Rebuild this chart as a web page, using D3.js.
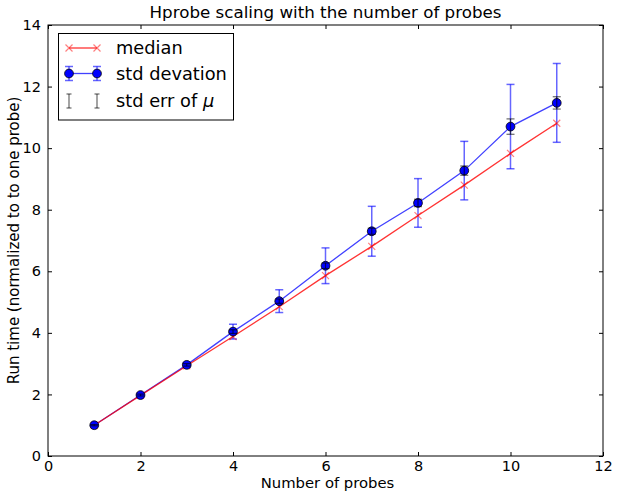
<!DOCTYPE html>
<html><head><meta charset="utf-8">
<script src="https://cdn.jsdelivr.net/npm/d3@7"></script>
<style>body{margin:0;background:#fff;} text{font-family:"DejaVu Sans",sans-serif;}</style>
</head><body><svg id="c" width="617" height="492"></svg>
<script>
const probes = [1,2,3,4,5,6,7,8,9,10,11];
const median = [1.0,1.97,2.93,3.88,4.85,5.86,6.81,7.81,8.80,9.83,10.81];
const meanVals = [1.0,1.98,2.96,4.04,5.03,6.18,7.30,8.22,9.27,10.70,11.47];
const stdDev = [0.03,0.05,0.08,0.24,0.37,0.58,0.81,0.79,0.95,1.37,1.28];
const stdErr = [0.02,0.03,0.04,0.06,0.07,0.09,0.10,0.12,0.15,0.25,0.20];
const xTicks = [0,2,4,6,8,10,12];
const yTicks = [0,2,4,6,8,10,12,14];

const svg = d3.select("#c");
const L=48, R=603, T=25, B=456;
const x = d3.scaleLinear().domain([0,12]).range([L,R]);
const y = d3.scaleLinear().domain([0,14]).range([B,T]);

// ticks (inward, all sides)
const g = svg.append("g");
g.append("g").attr("transform",`translate(0,${B})`).call(d3.axisBottom(x).tickValues(xTicks).tickSizeInner(-4).tickSizeOuter(0).tickPadding(5))
 .call(a=>{a.select(".domain").remove(); a.selectAll("text").attr("font-size",14.5).attr("fill","#000");});
g.append("g").attr("transform",`translate(0,${T})`).call(d3.axisTop(x).tickValues(xTicks).tickSizeInner(-4).tickSizeOuter(0).tickFormat(""))
 .call(a=>a.select(".domain").remove());
g.append("g").attr("transform",`translate(${L},0)`).call(d3.axisLeft(y).tickValues(yTicks).tickSizeInner(-4).tickSizeOuter(0).tickPadding(7))
 .call(a=>{a.select(".domain").remove(); a.selectAll("text").attr("font-size",14.5).attr("fill","#000");});
g.append("g").attr("transform",`translate(${R},0)`).call(d3.axisRight(y).tickValues(yTicks).tickSizeInner(-4).tickSizeOuter(0).tickFormat(""))
 .call(a=>a.select(".domain").remove());
g.selectAll(".tick line").attr("stroke","#000");

const data = probes.map((p,i)=>({p,med:median[i],mu:meanVals[i],sd:stdDev[i],se:stdErr[i]}));
const cap = 4;

// blue std dev error bars
const eb = svg.append("g").attr("stroke","#0000ff").attr("stroke-opacity",0.6).attr("stroke-width",1.5);
data.forEach(d=>{
  eb.append("line").attr("x1",x(d.p)).attr("x2",x(d.p)).attr("y1",y(d.mu-d.sd)).attr("y2",y(d.mu+d.sd));
  [d.mu-d.sd,d.mu+d.sd].forEach(v=>eb.append("line").attr("x1",x(d.p)-cap).attr("x2",x(d.p)+cap).attr("y1",y(v)).attr("y2",y(v)));
});

// blue line
svg.append("path").datum(data).attr("fill","none").attr("stroke","#0000ff").attr("stroke-opacity",0.75).attr("stroke-width",1.3)
 .attr("d",d3.line().x(d=>x(d.p)).y(d=>y(d.mu)));

// red median line
svg.append("path").datum(data).attr("fill","none").attr("stroke","#ff0000").attr("stroke-opacity",0.8).attr("stroke-width",1.3)
 .attr("d",d3.line().x(d=>x(d.p)).y(d=>y(d.med)));
const xs=3.5;
const rm = svg.append("g").attr("stroke","#ff0000").attr("stroke-opacity",0.5).attr("stroke-width",1.2);
data.forEach(d=>{
  const cx=x(d.p), cy=y(d.med);
  rm.append("path").attr("d",`M${cx-xs},${cy-xs}L${cx+xs},${cy+xs}M${cx-xs},${cy+xs}L${cx+xs},${cy-xs}`);
});

svg.append("g").selectAll("circle").data(data).join("circle")
 .attr("cx",d=>x(d.p)).attr("cy",d=>y(d.mu)).attr("r",4.4)
 .attr("fill","#0000ff").attr("stroke","#000").attr("stroke-width",0.8);

// std err bars
const se = svg.append("g").attr("stroke","#000").attr("stroke-opacity",0.6).attr("stroke-width",1.2);
data.forEach(d=>{
  se.append("line").attr("x1",x(d.p)).attr("x2",x(d.p)).attr("y1",y(d.mu-d.se)).attr("y2",y(d.mu+d.se));
  [d.mu-d.se,d.mu+d.se].forEach(v=>se.append("line").attr("x1",x(d.p)-cap).attr("x2",x(d.p)+cap).attr("y1",y(v)).attr("y2",y(v)));
});

// frame
svg.append("rect").attr("x",L).attr("y",T).attr("width",R-L).attr("height",B-T).attr("fill","none").attr("stroke","#000").attr("stroke-width",1);

// title and labels
svg.append("text").attr("x",(L+R)/2).attr("y",18).attr("text-anchor","middle").attr("font-size",16.7).text("Hprobe scaling with the number of probes");
svg.append("text").attr("x",(L+R)/2+2).attr("y",488).attr("text-anchor","middle").attr("font-size",14.8).text("Number of probes");
svg.append("text").attr("transform",`translate(19,${(T+B)/2}) rotate(-90)`).attr("text-anchor","middle").attr("font-size",15).text("Run time (normalized to to one probe)");

// legend
const lg = svg.append("g");
lg.append("rect").attr("x",58.5).attr("y",33.5).attr("width",175).attr("height",86.5).attr("fill","#fff").attr("stroke","#000").attr("stroke-width",1);
const hx1=69, hx2=97, tx=116, lfs=17.8;
// median
let ry=48;
lg.append("line").attr("x1",hx1).attr("x2",hx2).attr("y1",ry).attr("y2",ry).attr("stroke","#ff0000").attr("stroke-opacity",0.8).attr("stroke-width",1.3);
[hx1,hx2].forEach(cx=>lg.append("path").attr("d",`M${cx-xs},${ry-xs}L${cx+xs},${ry+xs}M${cx-xs},${ry+xs}L${cx+xs},${ry-xs}`).attr("stroke","#ff0000").attr("stroke-opacity",0.5).attr("stroke-width",1.2));
lg.append("text").attr("x",tx).attr("y",ry+6).attr("font-size",lfs).text("median");
// std dev
ry=73.5;
lg.append("line").attr("x1",hx1).attr("x2",hx2).attr("y1",ry).attr("y2",ry).attr("stroke","#0000ff").attr("stroke-opacity",0.75).attr("stroke-width",1.3);
[hx1,hx2].forEach(cx=>{
  lg.append("line").attr("x1",cx).attr("x2",cx).attr("y1",ry-7).attr("y2",ry+7).attr("stroke","#0000ff").attr("stroke-opacity",0.6).attr("stroke-width",1.5);
  [ry-7,ry+7].forEach(v=>lg.append("line").attr("x1",cx-cap).attr("x2",cx+cap).attr("y1",v).attr("y2",v).attr("stroke","#0000ff").attr("stroke-opacity",0.6).attr("stroke-width",1.5));
  lg.append("circle").attr("cx",cx).attr("cy",ry).attr("r",4.4).attr("fill","#0000ff").attr("stroke","#000").attr("stroke-width",0.8);
});
lg.append("text").attr("x",tx).attr("y",ry+6).attr("font-size",lfs).text("std devation");
// std err
ry=101;
[hx1,hx2].forEach(cx=>{
  lg.append("line").attr("x1",cx).attr("x2",cx).attr("y1",ry-7).attr("y2",ry+7).attr("stroke","#000").attr("stroke-opacity",0.6).attr("stroke-width",1.2);
  [ry-7,ry+7].forEach(v=>lg.append("line").attr("x1",cx-2.5).attr("x2",cx+2.5).attr("y1",v).attr("y2",v).attr("stroke","#000").attr("stroke-opacity",0.6).attr("stroke-width",1.2));
});
const t3 = lg.append("text").attr("x",tx).attr("y",ry+6).attr("font-size",lfs);
t3.append("tspan").text("std err of ");
t3.append("tspan").attr("font-style","italic").text("μ");
</script></body></html>
